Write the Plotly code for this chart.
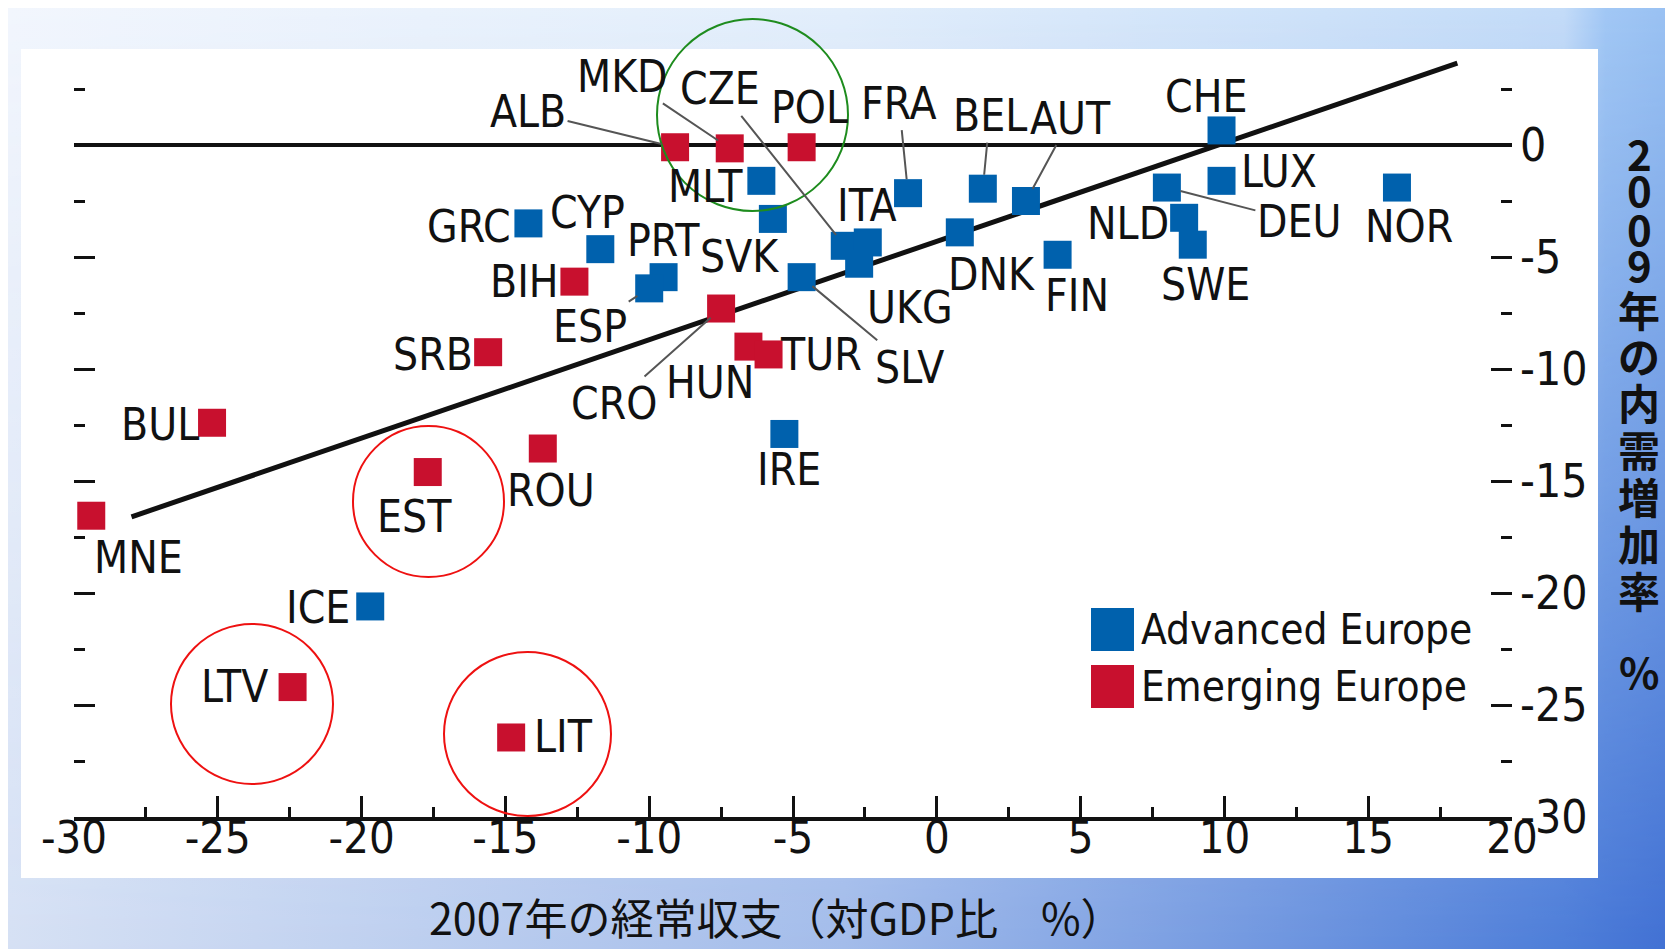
import base64
import plotly.graph_objects as go

# ---------------- data ----------------
adv_names = ["MLT", "GRC", "CYP", "PRT", "ESP", "SVK", "SLV", "CZE", "ITA", "UKG", "IRE", "ICE",
             "FRA", "BEL", "AUT", "DNK", "FIN", "CHE", "LUX", "DEU", "NLD", "SWE", "NOR"]
adv_ca = [-6.1, -14.2, -11.7, -9.5, -10.0, -5.7, -4.7, -3.2, -2.4, -2.7, -5.3, -19.7,
          -1.0, 1.6, 3.1, 0.8, 4.2, 9.9, 9.9, 8.0, 8.6, 8.9, 16.0]
adv_dd = [-1.6, -3.5, -4.65, -5.9, -6.4, -3.3, -5.9, -4.5, -4.35, -5.3, -12.9, -20.6,
          -2.15, -1.95, -2.5, -3.9, -4.9, 0.65, -1.6, -1.9, -3.25, -4.45, -1.9]

emg_names = ["ALB", "MKD", "POL", "BIH", "SRB", "BUL", "MNE", "EST", "ROU", "LTV", "LIT",
             "CRO", "HUN", "TUR"]
emg_ca = [-9.1, -7.2, -4.7, -12.6, -15.6, -25.2, -29.4, -17.7, -13.7, -22.4, -14.8,
          -7.5, -6.55, -5.85]
emg_dd = [-0.1, -0.15, -0.1, -6.1, -9.25, -12.4, -16.55, -14.6, -13.55, -24.2, -26.45,
          -7.3, -9.0, -9.35]

trend_x = [-28.0, 18.1]
trend_y = [-16.6, 3.65]

x_tick_vals = [-30, -25, -20, -15, -10, -5, 0, 5, 10, 15, 20]
x_tick_text = ["-30", "-25", "-20", "-15", "-10", "-5", "0", "5", "10", "15", "20"]
y_tick_vals = [-30, -25, -20, -15, -10, -5, 0]
y_tick_text = ["-30", "-25", "-20", "-15", "-10", "-5", "0"]

series_names = ["Advanced Europe", "Emerging Europe"]
x_title = "2007年の経常収支（対GDP比　%）"
y_title_chars = ["2", "0", "0", "9", "年", "の", "内", "需", "増", "加", "率", "%"]

# ---------------- styles / layout ----------------
W, H = 1673, 949
L, R, T, B = 66, 169, 41, 140
PW, PH = W - L - R, H - T - B
BLUE = "#0061AD"
RED = "#C8102E"
INK = "#111111"
NARROW = "DejaVu Sans Condensed, Liberation Sans Narrow, sans-serif"
JP = "Noto Sans CJK JP, sans-serif"


def px_x(px):
    return (px - L) / PW


def px_y(py):
    return (H - B - py) / PH


# label offsets in pixels (dx, dy, leader-line)
label_pos = {
    "ALB": (-147, -36, True), "MKD": (-107, -72, True), "CZE": (-125, -157, True),
    "POL": (8, -40, False), "FRA": (-9, -90, True), "BEL": (7, -73, True),
    "AUT": (45, -83, True), "CHE": (-16, -34, False), "LUX": (57, -9, False),
    "DEU": (132, 34, True), "NOR": (12, 39, False), "NLD": (-56, 6, False),
    "SWE": (13, 40, False), "FIN": (19, 41, False), "DNK": (32, 42, False),
    "UKG": (51, 44, False), "SLV": (108, 90, True), "ITA": (-1, -37, False),
    "TUR": (52, 0, False), "HUN": (-38, 36, False), "CRO": (-107, 95, True),
    "IRE": (5, 36, False), "MLT": (-56, 6, False), "SVK": (-33, 38, False),
    "PRT": (0, -37, False), "CYP": (-13, -37, False), "GRC": (-59, 3, False),
    "BIH": (-50, 0, False), "ESP": (-59, 38, True), "SRB": (-55, 2, False),
    "BUL": (-52, 2, False), "MNE": (47, 42, False), "EST": (-13, 44, False),
    "ROU": (8, 42, False), "ICE": (-52, 1, False), "LTV": (-58, -1, False),
    "LIT": (52, -1, False),
}
# vertical title character centres (pixels from top)
y_title_pos = [144, 181, 219, 256, 300, 346, 393, 440, 487, 534, 581, 662]

# background gradient (svg)
svg = f'''<svg xmlns="http://www.w3.org/2000/svg" width="{W}" height="{H}" viewBox="0 0 {W} {H}" preserveAspectRatio="none">
<defs>
<linearGradient id="top" x1="0" y1="0" x2="1" y2="0">
<stop offset="0" stop-color="#F2F6FD"/><stop offset="0.5" stop-color="#E2EEFB"/>
<stop offset="0.93" stop-color="#C4DCF8"/><stop offset="0.955" stop-color="#A2C8F5"/>
<stop offset="1" stop-color="#98C0F2"/>
</linearGradient>
<linearGradient id="bot" x1="0" y1="0" x2="1" y2="0">
<stop offset="0" stop-color="#D5E0F4"/><stop offset="0.5" stop-color="#A2BBEA"/>
<stop offset="0.93" stop-color="#4C7CD8"/><stop offset="1" stop-color="#3F6ED2"/>
</linearGradient>
<linearGradient id="vg" x1="0" y1="0" x2="0" y2="1">
<stop offset="0" stop-color="#000"/><stop offset="1" stop-color="#fff"/>
</linearGradient>
<mask id="m"><rect width="{W}" height="{H}" fill="url(#vg)"/></mask>
</defs>
<rect width="{W}" height="{H}" fill="url(#top)"/>
<rect width="{W}" height="{H}" fill="url(#bot)" mask="url(#m)"/>
</svg>'''
svg_uri = "data:image/svg+xml;base64," + base64.b64encode(svg.encode()).decode()

fig = go.Figure()

fig.add_trace(go.Scatter(x=trend_x, y=trend_y, mode="lines",
                         line=dict(color=INK, width=5), showlegend=False, hoverinfo="skip"))
fig.add_trace(go.Scatter(x=adv_ca, y=adv_dd, mode="markers", name=series_names[0], text=adv_names,
                         marker=dict(symbol="square", size=28, color=BLUE, line=dict(width=0)),
                         showlegend=False, cliponaxis=False))
fig.add_trace(go.Scatter(x=emg_ca, y=emg_dd, mode="markers", name=series_names[1], text=emg_names,
                         marker=dict(symbol="square", size=28, color=RED, line=dict(width=0)),
                         showlegend=False, cliponaxis=False))

annotations = []
for names, xs, ys in [(adv_names, adv_ca, adv_dd), (emg_names, emg_ca, emg_dd)]:
    for n, xv, yv in zip(names, xs, ys):
        dx, dy, leader = label_pos[n]
        a = dict(x=xv, y=yv, xref="x", yref="y", text=n,
                 font=dict(family=NARROW, size=44, color=INK))
        if leader:
            a.update(showarrow=True, ax=dx, ay=dy, arrowhead=0, arrowwidth=2,
                     arrowcolor="#555555", standoff=14)
        else:
            a.update(showarrow=False, xshift=dx, yshift=-dy)
        annotations.append(a)

# legend (manual)
shapes = []
for i, (nm, col) in enumerate(zip(series_names, [BLUE, RED])):
    top = 600 + i * 57
    shapes.append(dict(type="rect", xref="paper", yref="paper", x0=px_x(1083), x1=px_x(1126),
                       y0=px_y(top + 43), y1=px_y(top), fillcolor=col, line=dict(width=0),
                       layer="above"))
    annotations.append(dict(xref="paper", yref="paper", x=px_x(1131), y=px_y(top + 21), text=nm,
                            xanchor="left", yanchor="middle", showarrow=False,
                            font=dict(family=NARROW, size=42, color=INK)))

# white panel
shapes.insert(0, dict(type="rect", xref="paper", yref="paper", x0=px_x(13), x1=px_x(1590),
                      y0=px_y(870), y1=px_y(41), fillcolor="white", line=dict(width=0),
                      layer="below"))

# highlight circles
for (x0, y0, x1, y1, col) in [(649, 11, 840, 203, "#1E8C1E"), (345, 418, 496, 569, "#EE1111"),
                              (163, 616, 325, 776, "#EE1111"), (436, 644, 603, 808, "#EE1111")]:
    shapes.append(dict(type="circle", xref="paper", yref="paper", x0=px_x(x0), x1=px_x(x1),
                       y0=px_y(y1), y1=px_y(y0), line=dict(color=col, width=2), layer="above"))

# axis titles
annotations.append(dict(xref="paper", yref="paper", x=px_x(768), y=px_y(941), text=x_title,
                        showarrow=False, xanchor="center", yanchor="bottom",
                        font=dict(family=JP, size=43, color=INK)))
for ch, py in zip(y_title_chars, y_title_pos):
    annotations.append(dict(xref="paper", yref="paper", x=px_x(1631), y=px_y(py),
                            text="<b>" + ch + "</b>", showarrow=False, xanchor="center",
                            yanchor="middle", font=dict(family=JP, size=42, color=INK)))

fig.update_layout(
    width=W, height=H,
    margin=dict(l=L, r=R, t=T, b=B, pad=0),
    paper_bgcolor="#E4ECF8", plot_bgcolor="rgba(0,0,0,0)",
    images=[dict(source=svg_uri, xref="paper", yref="paper", x=px_x(0), y=px_y(0),
                 sizex=W / PW, sizey=H / PH, sizing="stretch", xanchor="left", yanchor="top",
                 layer="below")],
    shapes=shapes, annotations=annotations, showlegend=False,
    xaxis=dict(range=[-30, 20], tickmode="array", tickvals=x_tick_vals, ticktext=x_tick_text,
               ticks="inside", ticklen=21, tickwidth=3, tickcolor=INK,
               showline=True, linecolor=INK, linewidth=4, showgrid=False, zeroline=False,
               minor=dict(ticks="inside", ticklen=10, tickwidth=3, tickcolor=INK,
                          tickmode="linear", tick0=0, dtick=2.5, showgrid=False),
               tickfont=dict(family=NARROW, size=45, color=INK), automargin=False,
               ticklabelstandoff=-22, fixedrange=True),
    yaxis=dict(range=[-30, -30 + PH / 22.4], side="right", tickmode="array",
               tickvals=y_tick_vals, ticktext=y_tick_text,
               ticks="inside", ticklen=21, tickwidth=3, tickcolor=INK, mirror="ticks",
               showline=False, showgrid=False, zeroline=True, zerolinecolor=INK, zerolinewidth=4,
               minor=dict(ticks="inside", ticklen=11, tickwidth=3, tickcolor=INK,
                          tickmode="linear", tick0=0, dtick=2.5, showgrid=False),
               tickfont=dict(family=NARROW, size=46, color=INK), automargin=False,
               ticklabelstandoff=7, fixedrange=True),
)

fig.write_html("out.html")
